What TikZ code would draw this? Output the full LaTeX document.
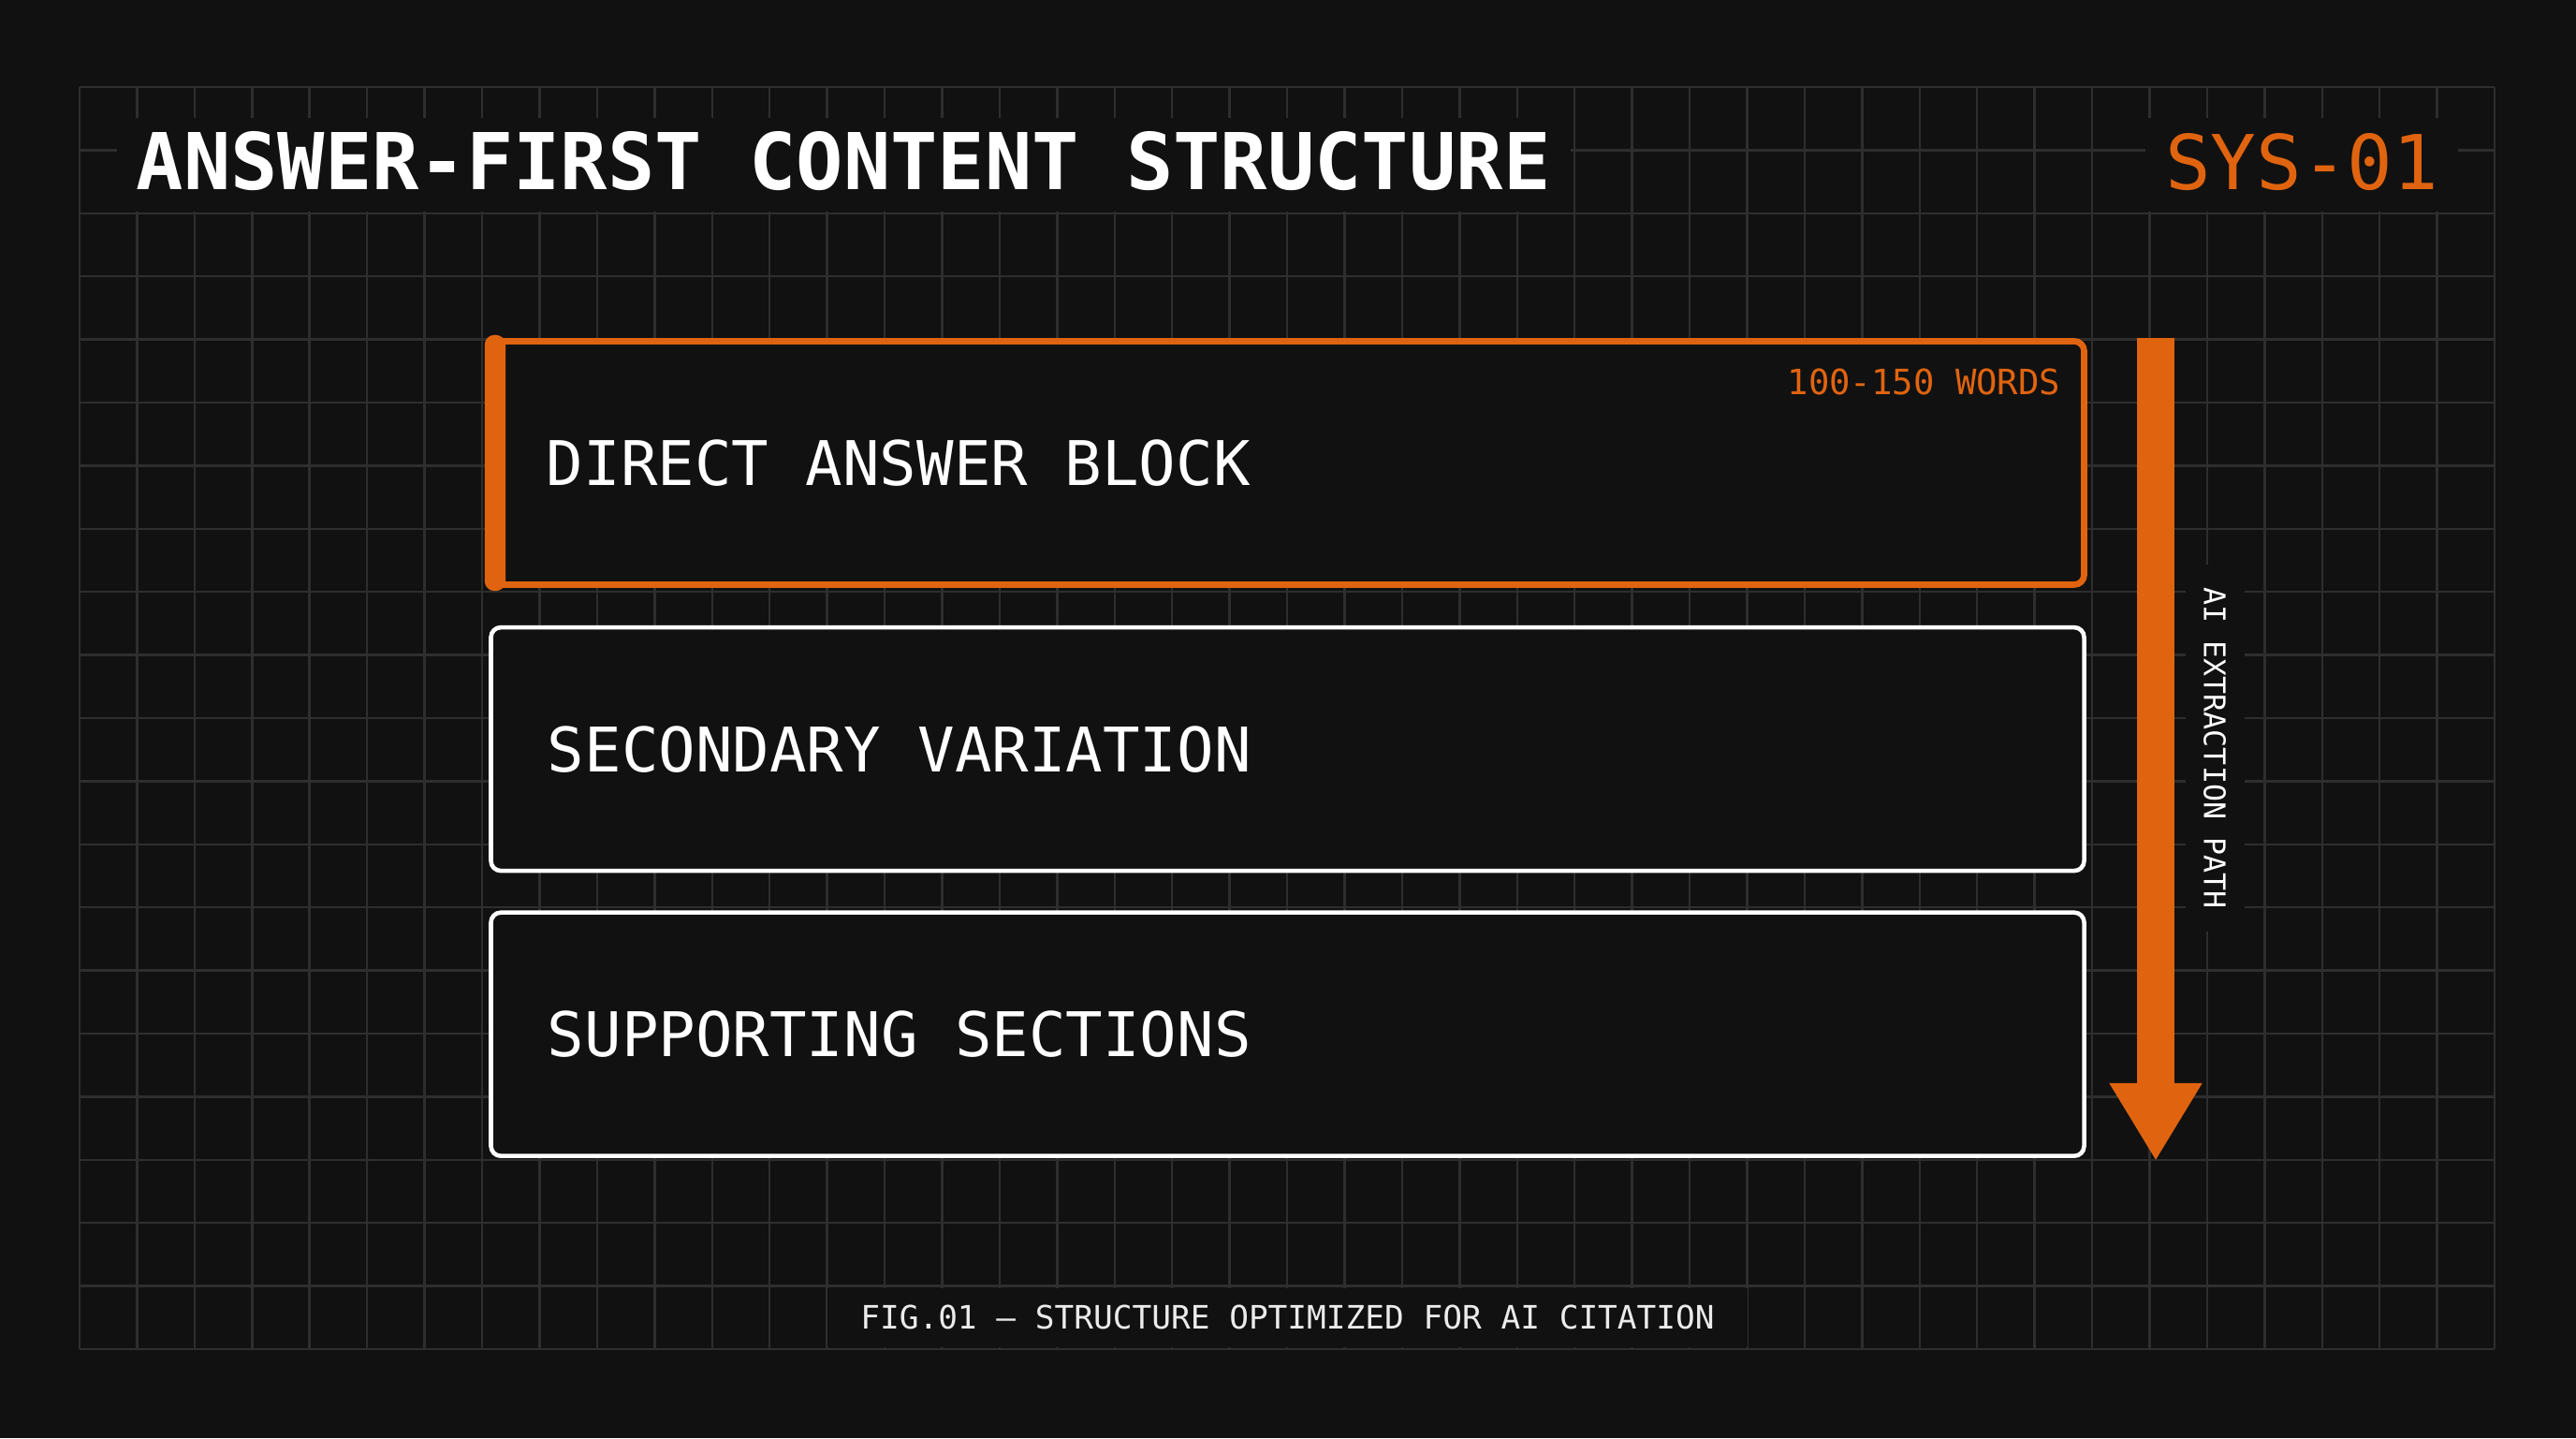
\documentclass[tikz,border=0pt]{standalone}
\usepackage{fontspec}
\setmonofont{DejaVu Sans Mono}
\usetikzlibrary{positioning,arrows.meta}
\definecolor{bgc}{RGB}{17,17,17}
\definecolor{gridc}{RGB}{46,46,46}
\definecolor{accent}{RGB}{224,100,16}

\begin{document}
\begin{tikzpicture}
  [every node/.style={font=\ttfamily, text=white, inner sep=0pt},
   gridline/.style={draw=gridc, line width=0.7pt},
   headtext/.style={fill=bgc, inner xsep=0.21cm, inner ysep=0.2cm, text height=0.57cm, text depth=0.03cm},
   block/.style={draw=white, line width=1.3pt, fill=bgc, rounded corners=3pt,
     minimum width=17.02cm, minimum height=2.60cm},
   mainblock/.style={block, draw=accent, line width=1.9pt},
   blocktext/.style={anchor=west, font=\ttfamily\fontsize{18.7pt}{22pt}\selectfont},
   wordtag/.style={text=accent, font=\ttfamily\fontsize{10.6pt}{12pt}\selectfont},
   flowarrow/.style={draw=accent, line width=0.40cm, -{Triangle[width=0.93cm,length=0.83cm]}},
   pathlabel/.style={fill=bgc, inner xsep=0.25cm, inner ysep=0.2cm, text height=0.23cm, text depth=0cm,
     font=\ttfamily\fontsize{9pt}{11pt}\selectfont},
   figcaption/.style={fill=bgc, inner xsep=0.35cm, inner ysep=0.19cm, text height=0.25cm, text depth=0cm,
     text=white!92!black, font=\ttfamily\fontsize{9.8pt}{12pt}\selectfont}]

  % page and grid
  \fill[bgc] (0,0) rectangle (27.52,15.36);
  \foreach \i in {0,...,42}
    \draw[gridline] (0.85+\i*0.6143,0.95) -- ++(0,13.48);
  \foreach \j in {0,...,20}
    \draw[gridline] (0.85,0.95+\j*0.674) -- ++(25.80,0);

  % header
  \node[headtext, anchor=base west, font=\ttfamily\bfseries\fontsize{23.8pt}{28pt}\selectfont] (title) at (1.24,13.33) {ANSWER-FIRST CONTENT STRUCTURE};
  \node[headtext, anchor=base east, text=accent, font=\ttfamily\fontsize{23pt}{28pt}\selectfont] (sysid) at (26.27,13.33) {SYS-01};

  % blocks
  \node[mainblock] (answer) at (13.755,10.415) {};
  \node[block, below=0.40cm of answer] (secondary) {};
  \node[block, below=0.40cm of secondary] (support) {};
  \fill[accent, rounded corners=3pt] ([shift={(-0.034cm,0.034cm)}]answer.north west) rectangle ([shift={(0.19cm,-0.034cm)}]answer.south west);
  \node[blocktext] (answertext) at ([xshift=0.62cm]answer.west) {DIRECT ANSWER BLOCK};
  \node[blocktext] (secondarytext) at ([xshift=0.62cm]secondary.west) {SECONDARY VARIATION};
  \node[blocktext] (supporttext) at ([xshift=0.62cm]support.west) {SUPPORTING SECTIONS};
  \node[wordtag, anchor=north east] (words) at ([shift={(-0.28cm,-0.32cm)}]answer.north east) {100-150 WORDS};

  % extraction path
  \coordinate (rail) at (23.03,0);
  \draw[flowarrow] (answer.north -| rail) -- ([yshift=-0.03cm]support.south -| rail);
  \node[pathlabel, rotate=-90] (pathname) at (23.66,7.37) {AI EXTRACTION PATH};

  % caption
  \node[figcaption] (fig) at (13.755,1.29) {FIG.01 – STRUCTURE OPTIMIZED FOR AI CITATION};

\end{tikzpicture}
\end{document}
